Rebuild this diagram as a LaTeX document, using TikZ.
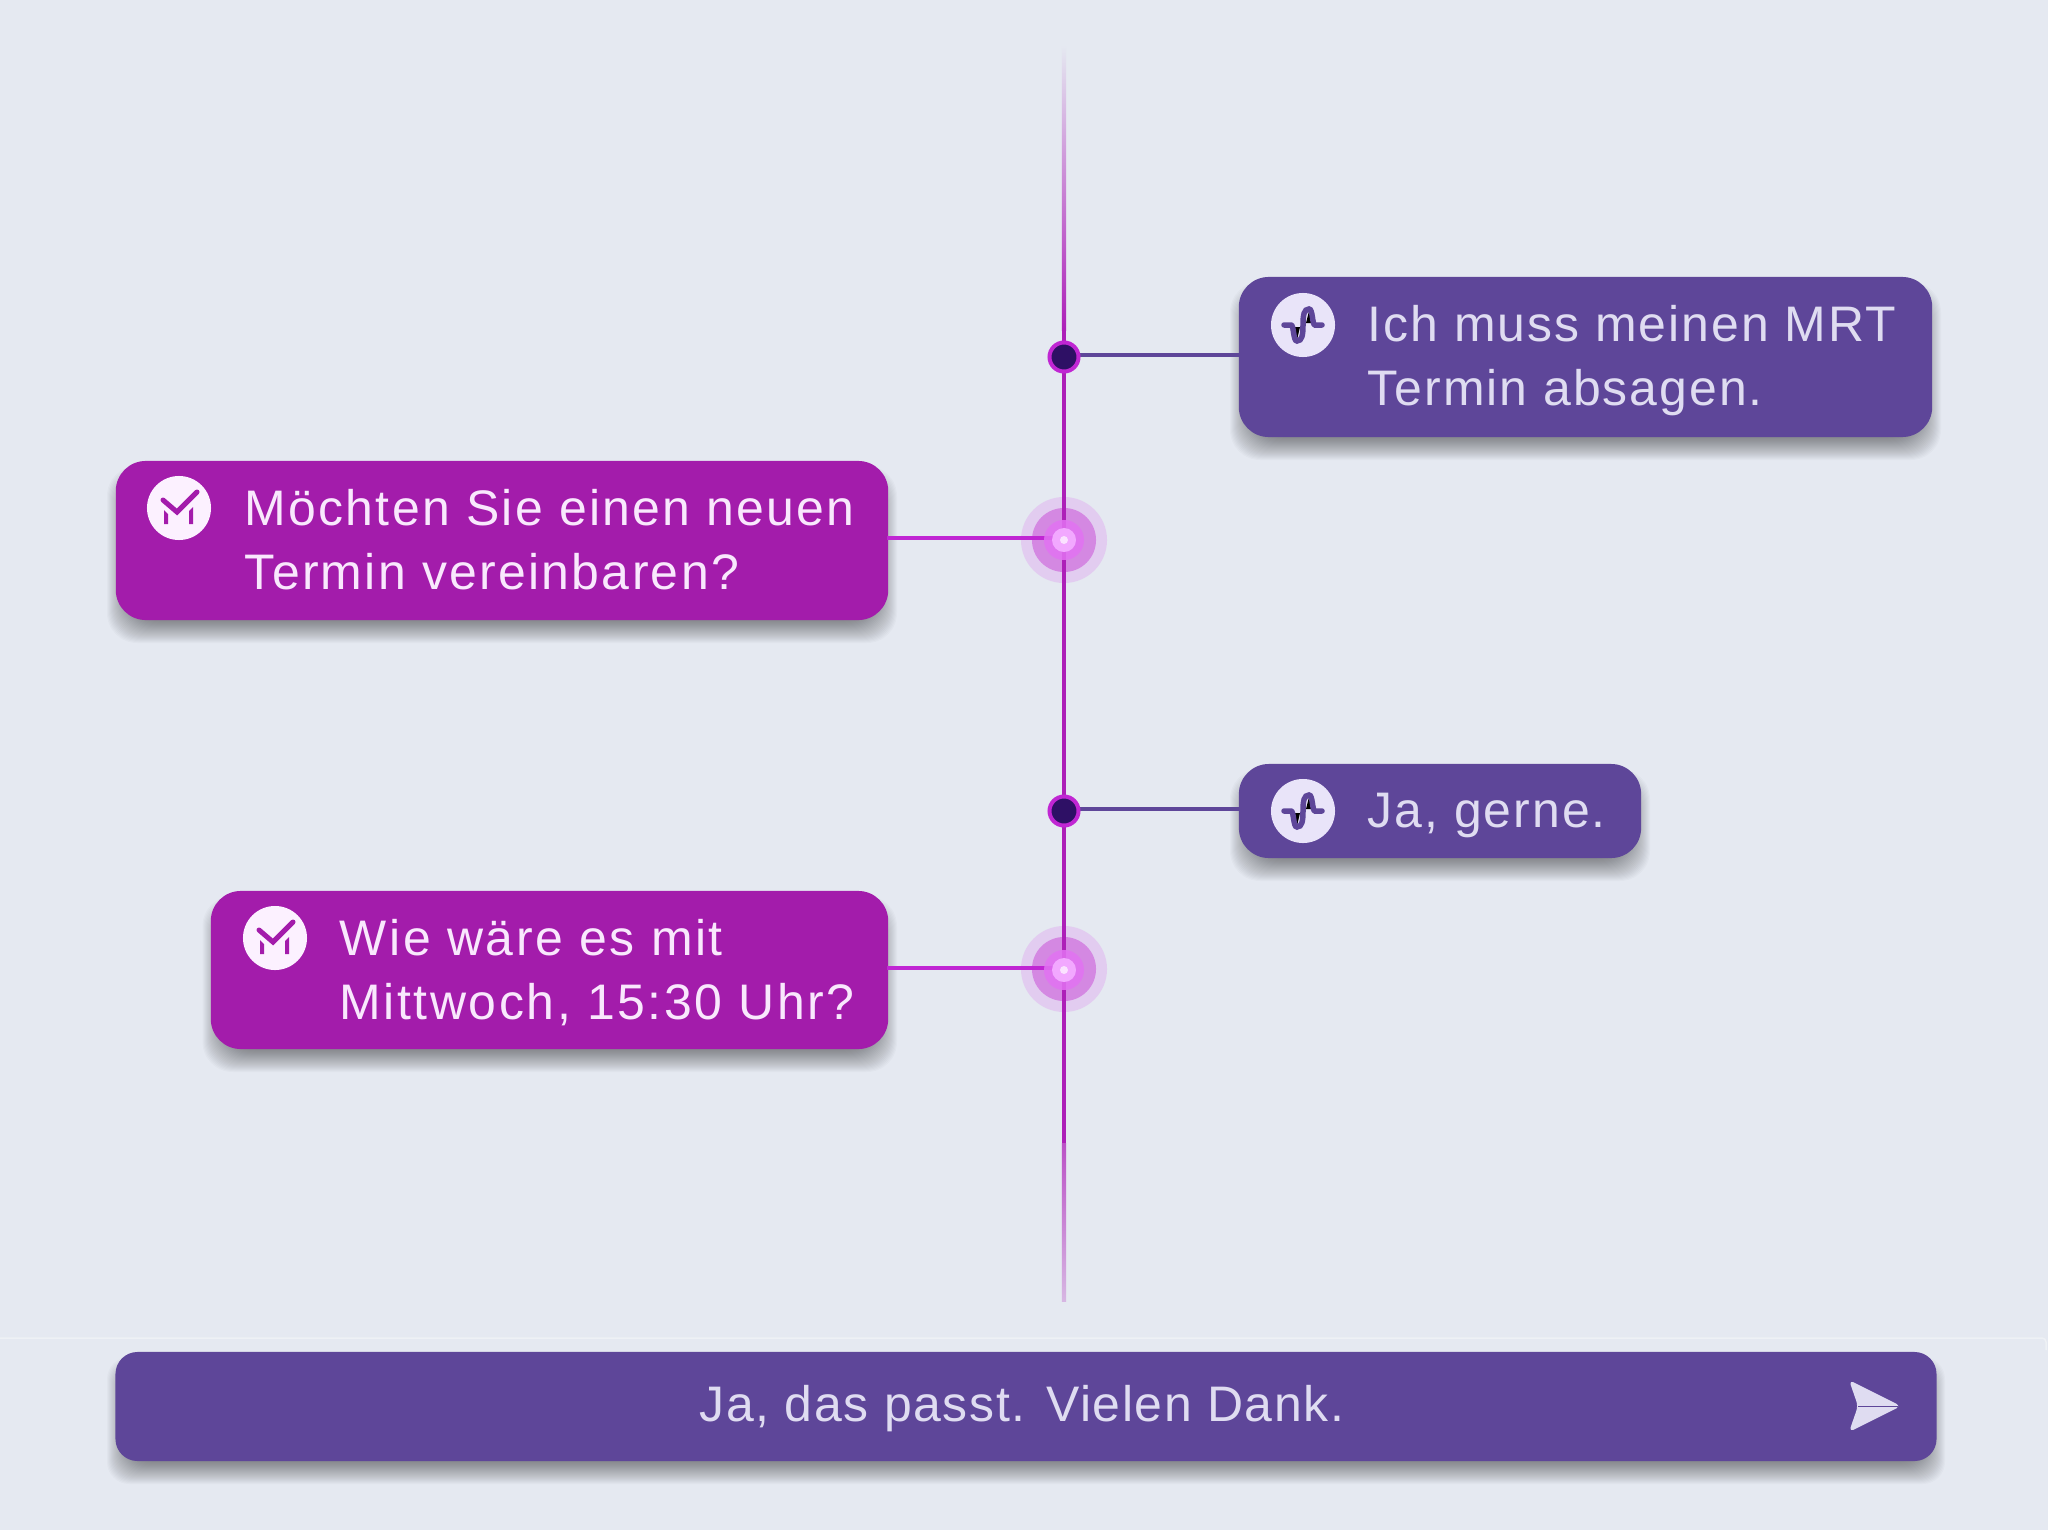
\documentclass[tikz,border=0pt]{standalone}
\usepackage{fontspec}
\setmainfont{Liberation Sans}[LetterSpace=4]

\definecolor{pagebg}{HTML}{E5E9F1}
\definecolor{panelline}{HTML}{EEF1F5}
\definecolor{agentcol}{HTML}{A31CAB}
\definecolor{usercol}{HTML}{5E4699}
\definecolor{agenttext}{HTML}{F9E8FD}
\definecolor{usertext}{HTML}{DFDCF1}
\definecolor{agenticon}{HTML}{FCF1FF}
\definecolor{usericon}{HTML}{E9E4F9}
\definecolor{timeline}{HTML}{AD1FB8}
\definecolor{agentline}{HTML}{C026D3}
\definecolor{dotfill}{HTML}{2E1065}
\definecolor{haloout}{HTML}{E2CCF0}
\definecolor{halomid}{HTML}{D488E2}
\definecolor{haloin}{HTML}{E272F2}
\definecolor{halocore}{HTML}{F2A8FF}
\definecolor{halodot}{HTML}{FBE2FF}

% soft shadow behind a bubble: left, top, right, bottom, corner radius
\newcommand{\softshadow}[5]{
  \foreach \k in {-14,-13,...,9} {
    \fill[black, opacity=0.02, rounded corners=#5] (#1-\k,#2-\k+14) rectangle (#3+\k,#4+\k+14);
  }
}

\tikzset{
  bubble/.style={rounded corners=0.3cm, inner sep=0pt},
  agentbubble/.style={bubble, fill=agentcol},
  userbubble/.style={bubble, fill=usercol},
  bubbletext/.style={anchor=west, inner sep=0pt, align=left, font=\fontsize{14.2}{18.2}\selectfont},
  icondisc/.style={circle, minimum size=0.64cm, inner sep=0pt},
  userdot/.style={circle, minimum size=0.29cm, inner sep=0pt, fill=dotfill, draw=agentline, line width=0.04cm},
  outerdisc/.style={circle, minimum size=0.86cm, inner sep=0pt, fill=haloout},
  middisc/.style={circle, minimum size=0.64cm, inner sep=0pt, fill=halomid},
  agentconn/.style={agentline, line width=0.04cm},
  userconn/.style={usercol, line width=0.04cm},
  mark m/.pic={
    \draw[agentcol, line width=0.05cm, line cap=round, line join=miter] (-16,-8) -- (-2,4) -- (18,-16);
    \fill[agentcol] (-15,2) -- (-11,6) -- (-11,16) -- (-15,16) -- cycle;
    \fill[agentcol] (10,3) -- (14,-1) -- (14,16) -- (10,16) -- cycle;
  },
  mark wave/.pic={
    \fill[black] (-9,2) -- (-3,2) -- (-6,15) -- cycle;
    \fill[black] (3,-2) -- (9,-2) -- (6,-14) -- cycle;
    \draw[usercol, line width=0.055cm, line cap=round] (-19,0) -- (-12,0)
      .. controls (-9,0) and (-10,16) .. (-6,16)
      .. controls (-1,16) and (0,10) .. (0,0)
      .. controls (0,-10) and (1,-16) .. (6,-16)
      .. controls (10,-16) and (9,0) .. (12,0) -- (19,0);
  }
}

\begin{document}
\begin{tikzpicture}[x=0.01cm, y=-0.01cm]
  \useasboundingbox (0,0) rectangle (2048,1530);
  \fill[pagebg] (0,0) rectangle (2048,1530);

  % Draw bottom panel edge
  \draw[panelline, line width=0.015cm, rounded corners=0.04cm] (-10,1338) -- (2046,1338) -- (2046,1350);

  % Draw timeline
  \shade[top color=pagebg, bottom color=timeline] (1061.8,45) rectangle (1066.2,330);
  \fill[timeline] (1061.8,330) rectangle (1066.2,1143);
  \shade[top color=timeline!75!pagebg, bottom color=timeline!25!pagebg] (1061.8,1143) rectangle (1066.2,1301);

  % Draw halos below the connectors
  \node[outerdisc] (h1) at (1064,540) {};
  \node[middisc] (g1) at (1064,540) {};
  \node[outerdisc] (h2) at (1064,969) {};
  \node[middisc] (g2) at (1064,969) {};
  \fill[timeline] (1061.8,490) rectangle (1066.2,1020);

  % Draw shadows
  \softshadow{1239}{277}{1932}{437}{0.3cm}
  \softshadow{116}{461}{888}{620}{0.3cm}
  \softshadow{1239}{764}{1641}{858}{0.3cm}
  \softshadow{211.5}{891}{888}{1049}{0.3cm}
  \softshadow{116}{1352}{1936}{1461}{0.22cm}

  % Draw bubbles
  \node[userbubble, minimum width=6.93cm, minimum height=1.60cm] (u1) at (1585.5,357) {};
  \node[agentbubble, minimum width=7.72cm, minimum height=1.59cm] (a1) at (502,540.5) {};
  \node[userbubble, minimum width=4.02cm, minimum height=0.94cm] (u2) at (1440,811) {};
  \node[agentbubble, minimum width=6.77cm, minimum height=1.58cm] (a2) at (549.5,970) {};
  \node[userbubble, rounded corners=0.22cm, minimum width=18.20cm, minimum height=1.09cm] (bar) at (1026,1406.5) {};

  % Draw connectors
  \coordinate (c1) at (1240,355);
  \coordinate (c2) at (887,538);
  \coordinate (c3) at (1240,809);
  \coordinate (c4) at (887,968);
  \coordinate (d1) at (1064,355);
  \coordinate (d2) at (1064,538);
  \coordinate (d3) at (1064,809);
  \coordinate (d4) at (1064,968);
  \draw[userconn] (d1) -- (c1);
  \draw[agentconn] (c2) -- (d2);
  \draw[userconn] (d3) -- (c3);
  \draw[agentconn] (c4) -- (d4);

  % Draw dots
  \node[userdot] (p1) at (1064,357) {};
  \node[userdot] (p3) at (1064,811) {};

  % Draw halo centres
  \foreach \y in {540,970} {
    \fill[haloin, opacity=0.85] (1064,\y) circle (0.20cm);
    \fill[halocore] (1064,\y) circle (0.12cm);
    \fill[halodot] (1064,\y) circle (0.04cm);
  }

  % Draw icons
  \node[icondisc, fill=usericon] (i1) at (1303,325) {};
  \node[icondisc, fill=agenticon] (i2) at (179,508) {};
  \node[icondisc, fill=usericon] (i3) at (1303,811) {};
  \node[icondisc, fill=agenticon] (i4) at (275,938) {};
  \pic at (i1) {mark wave};
  \pic at (i2) {mark m};
  \pic at (i3) {mark wave};
  \pic at (i4) {mark m};

  % Draw labels
  \node[bubbletext, text=usertext] (t1) at (1367,361) {Ich muss meinen MRT\\Termin absagen.};
  \node[bubbletext, text=agenttext] (t2) at (244,540) {\addfontfeature{LetterSpace=4.6}Möchten Sie einen neuen\\\addfontfeature{LetterSpace=4.6}Termin vereinbaren?};
  \node[bubbletext, text=usertext] (t3) at (1367,815) {Ja, gerne.};
  \node[bubbletext, text=agenttext] (t4) at (339,973) {\addfontfeature{LetterSpace=5.1}Wie wäre es mit\\\addfontfeature{LetterSpace=5.1}Mittwoch, 15:30 Uhr?};
  \node[bubbletext, anchor=center, text=usertext] (t5) at (1022,1409) {\addfontfeature{LetterSpace=3.2}Ja, das passt. Vielen Dank.};

  % Draw send arrow
  \fill[usertext, rounded corners=0.05cm] (1849,1380) -- (1901,1406) -- (1849,1432) -- (1858,1406) -- cycle;
  \draw[usercol, line width=0.01cm] (1858,1406) -- (1898,1406);
\end{tikzpicture}
\end{document}
